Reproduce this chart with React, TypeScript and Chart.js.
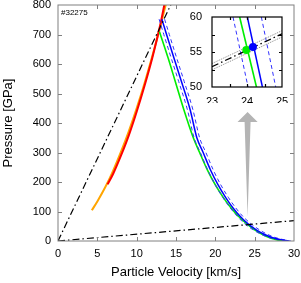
import React, { useEffect, useRef } from "react";
import { Chart, registerables } from "chart.js";

Chart.register(...registerables);

const FONT = "'Liberation Sans', Arial, Helvetica, sans-serif";

// ---- main axes ----
const mainXTicks = [0, 5, 10, 15, 20, 25, 30];
const mainYTicks = [0, 100, 200, 300, 400, 500, 600, 700, 800];
const xTitle = "Particle Velocity [km/s]";
const yTitle = "Pressure [GPa]";
const shotLabel = "#32275";

// ---- main series ----
const orangeU = [4.3, 5, 6, 7, 8, 9, 10, 11, 12, 12.5, 13, 13.8];
const orangeP = [104, 134, 182, 238, 302, 372, 450, 535, 628, 676, 727, 812];

const redU = [6.3, 7, 8, 9, 10, 11, 12, 12.5, 13, 13.6];
const redP = [192, 227, 289, 358, 438, 526, 622, 676, 733, 812];

const rayleighSteepU = [0, 14.4];
const rayleighSteepP = [0, 804];

const rayleighLowU = [0, 30];
const rayleighLowP = [0, 69];

const greenU = [12.9, 14, 14.85, 16, 17.2, 18, 19, 20, 21, 22, 23, 24, 25, 26, 27, 28, 28.7];
const greenP = [709, 620, 546, 445, 350, 300, 240, 190, 148, 112, 82, 58, 38, 22, 10, 3, 0];

const blueU = [13.2, 13.8, 14.8, 15.7, 16.8, 17.65, 18.45, 19.4, 20.35, 21.3, 22.25, 23.2, 24.2, 25.2, 26.2, 27.2, 28.2, 29.3];
const blueP = [752, 700, 615, 540, 445, 350, 300, 240, 190, 148, 112, 82, 57, 38, 23, 12, 5, 0];
const blueLoU = [12.85, 13.45, 14.45, 15.35, 16.45, 17.3, 18.1, 19.05, 20.0, 20.95, 21.9, 22.85, 23.8, 24.8, 25.8, 26.8, 27.8, 28.9];
const blueHiU = [13.55, 14.15, 15.15, 16.05, 17.15, 18.0, 18.8, 19.75, 20.7, 21.65, 22.6, 23.55, 24.6, 25.6, 26.6, 27.6, 28.6, 29.6];

// gray arrow (polygon, data coords)
const arrowU = [24.1, 25.38, 24.48, 24.1, 23.72, 22.82];
const arrowP = [437, 403, 403, 81, 403, 403];

// ---- inset ----
const insetXTicks = [23, 23.5, 24, 24.5, 25];
const insetXLabels = [23, 24, 25];
const insetYTicks = [50, 52.5, 55, 57.5, 60];
const insetYLabels = [50, 55, 60];

const insetGreenU = [23.79, 24.27];
const insetGreenP = [60, 50];
const insetBlueU = [24.01, 24.44];
const insetBlueP = [60, 50];
const insetBlueLoU = [23.6, 24.03];
const insetBlueHiU = [24.41, 24.82];
const insetRayU = [23, 25];
const insetRayP = [52.9, 57.6];
const insetRayLoP = [52.45, 57.15];
const insetRayHiP = [53.35, 58.05];
const greenPointU = [23.98];
const greenPointP = [55.3];
const bluePointU = [24.17];
const bluePointP = [55.7];

const zip = (u: number[], p: number[]) => u.map((v, i) => ({ x: v, y: p[i] }));

const line = (data: any, color: string, width: number, dash: number[] = [], smooth = true) => ({
  data,
  showLine: true,
  borderColor: color,
  backgroundColor: color,
  borderWidth: width,
  borderDash: dash,
  pointRadius: 0,
  fill: false,
  cubicInterpolationMode: smooth ? "monotone" : "default",
  tension: 0,
});

const framePlugin = {
  id: "frameTicks",
  afterDatasetsDraw(chart: any, _args: any, opts: any) {
    const { ctx, chartArea: a, scales } = chart;
    const L = opts.tickLen ?? 4;
    ctx.save();
    ctx.strokeStyle = opts.color || "#000";
    ctx.lineWidth = opts.lineWidth || 1;
    ctx.beginPath();
    for (const t of scales.x.ticks) {
      const px = Math.round(scales.x.getPixelForValue(t.value)) + 0.5;
      if (px <= a.left + 1 || px >= a.right - 1) continue;
      ctx.moveTo(px, a.bottom);
      ctx.lineTo(px, a.bottom - L);
      ctx.moveTo(px, a.top);
      ctx.lineTo(px, a.top + L);
    }
    for (const t of scales.y.ticks) {
      const py = Math.round(scales.y.getPixelForValue(t.value)) + 0.5;
      if (py <= a.top + 1 || py >= a.bottom - 1) continue;
      ctx.moveTo(a.left, py);
      ctx.lineTo(a.left + L, py);
      ctx.moveTo(a.right, py);
      ctx.lineTo(a.right - L, py);
    }
    ctx.stroke();
    ctx.strokeRect(a.left, a.top, a.right - a.left, a.bottom - a.top);
    if (opts.label) {
      ctx.fillStyle = "#000";
      ctx.font = `8px ${FONT}`;
      ctx.textBaseline = "top";
      ctx.textAlign = "left";
      ctx.fillText(opts.label, a.left + 3, a.top + 4);
    }
    ctx.restore();
  },
};

const arrowPlugin = {
  id: "grayArrow",
  beforeDatasetsDraw(chart: any, _args: any, opts: any) {
    if (!opts || !opts.u) return;
    const { ctx, scales } = chart;
    ctx.save();
    ctx.fillStyle = opts.color;
    ctx.beginPath();
    opts.u.forEach((u: number, i: number) => {
      const x = scales.x.getPixelForValue(u);
      const y = scales.y.getPixelForValue(opts.p[i]);
      if (i === 0) ctx.moveTo(x, y);
      else ctx.lineTo(x, y);
    });
    ctx.closePath();
    ctx.fill();
    ctx.restore();
  },
};

const whiteAreaPlugin = {
  id: "whiteArea",
  beforeDraw(chart: any) {
    const { ctx, chartArea: a } = chart;
    ctx.save();
    ctx.fillStyle = "#fff";
    ctx.fillRect(a.left, a.top, a.right - a.left, a.bottom - a.top);
    ctx.restore();
  },
};

const fixTicks = (vals: number[]) => (s: any) => {
  s.ticks = vals.map((v) => ({ value: v }));
};

export default function App() {
  const mainRef = useRef<HTMLCanvasElement>(null);
  const insetRef = useRef<HTMLCanvasElement>(null);

  useEffect(() => {
    const main = new Chart(mainRef.current as HTMLCanvasElement, {
      type: "scatter",
      data: {
        datasets: [
          line(zip(rayleighSteepU, rayleighSteepP), "#000", 1.2, [7, 3, 1.5, 3], false),
          line(zip(rayleighLowU, rayleighLowP), "#000", 1.2, [7, 3, 1.5, 3], false),
          line(zip(blueU, blueP), "#0000ff", 1.5),
          line(zip(blueLoU, blueP), "#3333ff", 1, [4, 3]),
          line(zip(blueHiU, blueP), "#3333ff", 1, [4, 3]),
          line(zip(greenU, greenP), "#00ee00", 1.6),
          line(zip(redU, redP), "#ff0000", 2),
          line(zip(orangeU, orangeP), "#ffa500", 2),
        ] as any,
      },
      options: {
        responsive: false,
        animation: false,
        devicePixelRatio: 1,
        layout: { padding: { top: 5, right: 7, left: 0, bottom: 0 } },
        plugins: {
          legend: { display: false },
          tooltip: { enabled: false },
          frameTicks: { color: "#808080", tickLen: 4, label: shotLabel },
          grayArrow: { u: arrowU, p: arrowP, color: "#b4b4b4" },
        } as any,
        scales: {
          x: {
            type: "linear",
            min: 0,
            max: 30,
            afterBuildTicks: fixTicks(mainXTicks),
            afterFit: (s: any) => {
              s.height = 42;
              s.paddingLeft = 0;
              s.paddingRight = 0;
            },
            grid: { display: false, drawTicks: false },
            border: { display: false },
            ticks: { color: "#000", font: { family: FONT, size: 11 }, padding: 6, maxRotation: 0, autoSkip: false },
            title: { display: true, text: xTitle, color: "#000", font: { family: FONT, size: 13 }, padding: { top: 0, bottom: 3 } },
          },
          y: {
            type: "linear",
            min: 0,
            max: 800,
            afterBuildTicks: fixTicks(mainYTicks),
            afterFit: (s: any) => {
              s.width = 58;
              s.paddingTop = 0;
              s.paddingBottom = 0;
            },
            grid: { display: false, drawTicks: false },
            border: { display: false },
            ticks: { color: "#000", font: { family: FONT, size: 11 }, padding: 7, autoSkip: false },
            title: { display: true, text: yTitle, color: "#000", font: { family: FONT, size: 13 }, padding: { top: 1, bottom: 0 } },
          },
        },
      } as any,
      plugins: [arrowPlugin, framePlugin] as any,
    });

    const inset = new Chart(insetRef.current as HTMLCanvasElement, {
      type: "scatter",
      data: {
        datasets: [
          { data: zip(bluePointU, bluePointP), pointRadius: 4, backgroundColor: "#0000ff", borderColor: "#0000ff", borderWidth: 0 },
          { data: zip(greenPointU, greenPointP), pointRadius: 4, backgroundColor: "#00ee00", borderColor: "#00ee00", borderWidth: 0 },
          line(zip(insetRayU, insetRayP), "#000", 1.3, [7, 3, 1.5, 3], false),
          line(zip(insetRayU, insetRayLoP), "#888", 1, [1, 1], false),
          line(zip(insetRayU, insetRayHiP), "#888", 1, [1, 1], false),
          line(zip(insetBlueU, insetBlueP), "#0000ff", 1.5, [], false),
          line(zip(insetGreenU, insetGreenP), "#00ee00", 1.6, [], false),
          line(zip(insetBlueLoU, insetBlueP), "#3333ff", 1, [4, 3], false),
          line(zip(insetBlueHiU, insetBlueP), "#3333ff", 1, [4, 3], false),
        ] as any,
      },
      options: {
        responsive: false,
        animation: false,
        devicePixelRatio: 1,
        layout: { padding: { top: 17, right: 19, left: 180, bottom: 180 } },
        plugins: {
          legend: { display: false },
          tooltip: { enabled: false },
          frameTicks: { color: "#000", tickLen: 3, lineWidth: 1.2 },
        } as any,
        scales: {
          x: {
            type: "linear",
            min: 23,
            max: 25,
            afterBuildTicks: fixTicks(insetXTicks),
            afterFit: (s: any) => {
              s.height = 16;
              s.paddingLeft = 0;
              s.paddingRight = 0;
            },
            grid: { display: false, drawTicks: false },
            border: { display: false },
            ticks: {
              color: "#000",
              font: { family: FONT, size: 11 },
              padding: 8,
              maxRotation: 0,
              autoSkip: false,
              callback: (v: any) => (insetXLabels.includes(Number(v)) ? String(v) : ""),
            },
          },
          y: {
            type: "linear",
            min: 50,
            max: 60,
            afterBuildTicks: fixTicks(insetYTicks),
            afterFit: (s: any) => {
              s.width = 32;
              s.paddingTop = 0;
              s.paddingBottom = 0;
            },
            grid: { display: false, drawTicks: false },
            border: { display: false },
            ticks: {
              color: "#000",
              font: { family: FONT, size: 11 },
              padding: 10,
              autoSkip: false,
              callback: (v: any) => (insetYLabels.includes(Number(v)) ? String(v) : ""),
            },
          },
        },
      } as any,
      plugins: [whiteAreaPlugin, framePlugin] as any,
    });

    return () => {
      main.destroy();
      inset.destroy();
    };
  }, []);

  return (
    <div style={{ position: "fixed", left: 0, top: 0, width: 301, height: 283, background: "#fff" }}>
      <canvas ref={mainRef} width={301} height={283} style={{ position: "absolute", left: 0, top: 0 }} />
      <canvas ref={insetRef} width={301} height={283} style={{ position: "absolute", left: 0, top: 0 }} />
    </div>
  );
}
